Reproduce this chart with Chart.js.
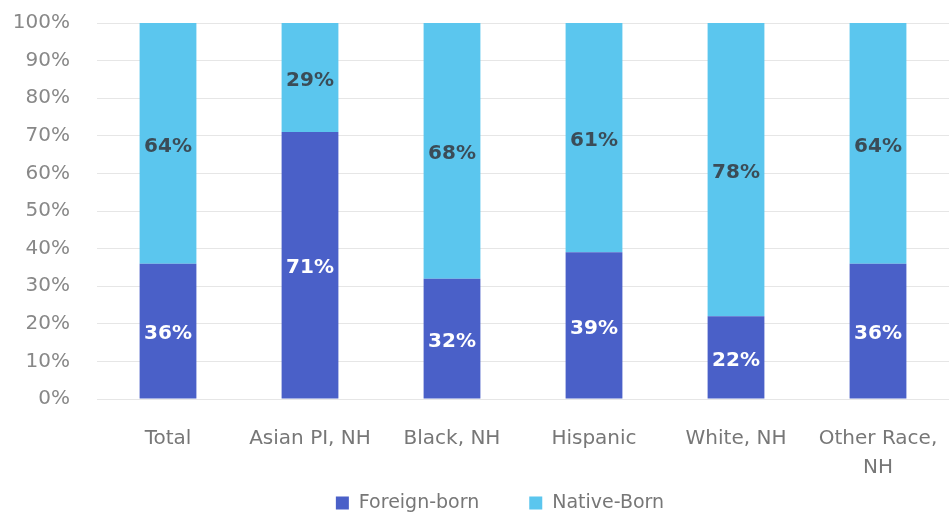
<!DOCTYPE html>
<html>
<head>
<meta charset="utf-8">
<script src="https://cdn.jsdelivr.net/npm/chart.js@4"></script>
<style>
  html, body { margin: 0; padding: 0; background: #fff; }
  #wrap { width: 949px; height: 514px; }
</style>
</head>
<body>
<div id="wrap"><canvas id="grafik"></canvas></div>
<script>
// -------- DATA --------
const kategori = ["Total", "Asian PI, NH", "Black, NH", "Hispanic", "White, NH", ["Other Race,", "NH"]];
const foreignBorn = [36, 71, 32, 39, 22, 36];
const nativeBorn = [64, 29, 68, 61, 78, 64];
const yTicks = [0, 10, 20, 30, 40, 50, 60, 70, 80, 90, 100];

const fontFamily = "'DejaVu Sans', sans-serif";

// label di tengah tiap segmen
const labelPlugin = {
    id: "segLabel",
    afterDatasetsDraw(chart) {
        const ctx = chart.ctx;
        ctx.save();
        ctx.font = "bold 20px " + fontFamily;
        ctx.textAlign = "center";
        ctx.textBaseline = "middle";
        chart.data.datasets.forEach((ds, i) => {
            const meta = chart.getDatasetMeta(i);
            meta.data.forEach((bar, j) => {
                const mid = (bar.y + bar.base) / 2 + 3;
                ctx.fillStyle = i === 0 ? "#ffffff" : "#3b4c57";
                ctx.fillText(ds.data[j] + "%", bar.x, mid);
            });
        });
        ctx.restore();
    }
};

// legend bawah, digambar sendiri supaya jaraknya pas
const legendPlugin = {
    id: "legendBawah",
    afterDraw(chart) {
        const ctx = chart.ctx;
        const items = chart.data.datasets;
        ctx.save();
        ctx.font = "19px " + fontFamily;
        ctx.textBaseline = "middle";
        const box = 13, gapText = 10, gapItem = 50;
        let total = 0;
        items.forEach((ds, i) => {
            total += box + gapText + ctx.measureText(ds.label).width;
            if (i < items.length - 1) total += gapItem;
        });
        let x = 500 - total / 2;
        const y = chart.height - 11;
        items.forEach(ds => {
            ctx.fillStyle = ds.backgroundColor;
            ctx.fillRect(x, y - box / 2, box, box);
            x += box + gapText;
            ctx.fillStyle = "#777";
            ctx.fillText(ds.label, x, y);
            x += ctx.measureText(ds.label).width + gapItem;
        });
        ctx.restore();
    }
};

new Chart(document.getElementById("grafik"), {
    type: "bar",
    data: {
        labels: kategori,
        datasets: [
            {
                label: "Foreign-born",
                data: foreignBorn,
                backgroundColor: "#4a60c8",
                categoryPercentage: 1,
                barPercentage: 0.4
            },
            {
                label: "Native-Born",
                data: nativeBorn,
                backgroundColor: "#5bc6ee",
                categoryPercentage: 1,
                barPercentage: 0.4
            }
        ]
    },
    options: {
        responsive: true,
        maintainAspectRatio: false,
        animation: false,
        layout: { padding: { top: 23, left: 8, right: 0, bottom: 0 } },
        plugins: {
            tooltip: { enabled: false },
            legend: { display: false }
        },
        scales: {
            x: {
                stacked: true,
                grid: { display: false },
                border: { display: false },
                afterFit: axis => {
                    axis.height = 115;
                    axis.paddingLeft = 0;
                    axis.paddingRight = 0;
                },
                ticks: {
                    color: "#777",
                    font: { family: fontFamily, size: 20, lineHeight: 1.45 },
                    padding: 17,
                    maxRotation: 0,
                    autoSkip: false
                }
            },
            y: {
                stacked: true,
                min: 0,
                max: 100,
                afterBuildTicks: axis => { axis.ticks = yTicks.map(v => ({ value: v })); },
                afterFit: axis => {
                    axis.width = 89;
                    axis.paddingTop = 0;
                    axis.paddingBottom = 0;
                },
                grid: { color: "#e6e6e6", drawTicks: false },
                border: { display: false },
                ticks: {
                    color: "#888",
                    font: { family: fontFamily, size: 20 },
                    padding: 27,
                    callback: v => v + "%"
                }
            }
        }
    },
    plugins: [labelPlugin, legendPlugin]
});
</script>
</body>
</html>
